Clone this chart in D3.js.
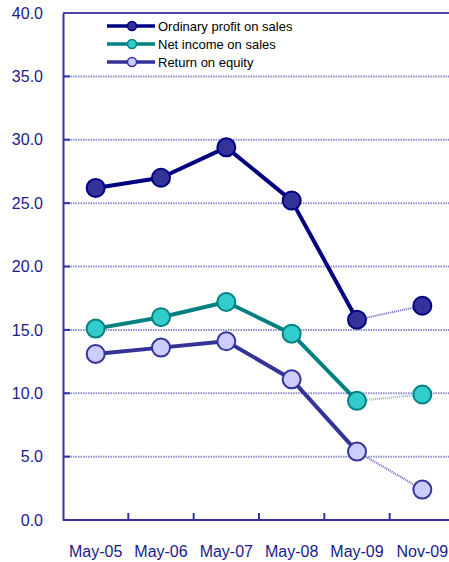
<!DOCTYPE html>
<html>
<head>
<meta charset="utf-8">
<script src="https://cdn.jsdelivr.net/npm/d3@7"></script>
<style>
  body { margin: 0; background: #fff; }
  svg { display: block; font-family: "Liberation Sans", Arial, sans-serif; }
</style>
</head>
<body>
<div id="chart"></div>
<script>
// periods on the x axis
var periods = ['May-05', 'May-06', 'May-07', 'May-08', 'May-09', 'Nov-09'];

// series values (%)
var ordinaryProfit = [26.2, 27.0, 29.4, 25.2, 15.8, 16.9];
var netIncome = [15.1, 16.0, 17.2, 14.7, 9.4, 9.9];
var returnOnEquity = [13.1, 13.6, 14.1, 11.1, 5.4, 2.4];

var yTicks = [0, 5, 10, 15, 20, 25, 30, 35, 40];

var series = [
  { name: 'Ordinary profit on sales', values: ordinaryProfit, line: '#000080', fill: '#333399', stroke: '#000080', dot: '#6666bb' },
  { name: 'Net income on sales', values: netIncome, line: '#008080', fill: '#33cccc', stroke: '#008080', dot: '#66cccc' },
  { name: 'Return on equity', values: returnOnEquity, line: '#333399', fill: '#ccccff', stroke: '#333399', dot: '#6666bb' }
];

const W = 449, H = 562;
const margin = { top: 13, right: -6, bottom: 42, left: 63 };
const width = W - margin.left - margin.right;
const height = H - margin.top - margin.bottom;

const svg = d3.select('#chart')
  .append('svg')
    .attr('width', W)
    .attr('height', H)
  .append('g')
    .attr('transform', `translate(${margin.left},${margin.top})`);

const xScale = d3.scaleBand()
  .domain(periods)
  .range([0, width]);

const yScale = d3.scaleLinear()
  .domain([0, 40])
  .range([height, 0]);

const axisColor = '#333399';
const textColor = '#1a1a8c';

// dotted gridlines
svg.append('g')
  .selectAll('line')
  .data(yTicks.filter(d => d > 0 && d < 40))
  .join('line')
    .attr('x1', 0)
    .attr('x2', width)
    .attr('y1', d => yScale(d))
    .attr('y2', d => yScale(d))
    .attr('stroke', '#8f8fcf')
    .attr('stroke-width', 2)
    .attr('stroke-dasharray', '1.5,1');

// top border at 40
svg.append('line')
  .attr('x1', 0).attr('x2', width)
  .attr('y1', yScale(40)).attr('y2', yScale(40))
  .attr('stroke', '#4747a8')
  .attr('stroke-width', 2);

// y axis, ticks pointing inward
svg.append('g')
  .call(d3.axisLeft(yScale).tickValues(yTicks).tickFormat(d3.format('.1f')).tickSize(0).tickPadding(20))
  .call(g => g.select('.domain').attr('stroke', axisColor).attr('stroke-width', 2))
  .call(g => g.selectAll('text').attr('fill', textColor).attr('font-size', 16)
    .attr('font-family', '"Liberation Sans", Arial, sans-serif'));

svg.append('g')
  .selectAll('line')
  .data(yTicks.filter(d => d > 0 && d < 40))
  .join('line')
    .attr('x1', 0)
    .attr('x2', 7)
    .attr('y1', d => yScale(d))
    .attr('y2', d => yScale(d))
    .attr('stroke', axisColor)
    .attr('stroke-width', 2);

// x axis with inner ticks at band edges
svg.append('line')
  .attr('x1', 0).attr('x2', width)
  .attr('y1', height).attr('y2', height)
  .attr('stroke', axisColor)
  .attr('stroke-width', 2);

svg.append('g')
  .selectAll('line')
  .data(periods.slice(1))
  .join('line')
    .attr('x1', d => xScale(d))
    .attr('x2', d => xScale(d))
    .attr('y1', height)
    .attr('y2', height - 7)
    .attr('stroke', axisColor)
    .attr('stroke-width', 2);

svg.append('g')
  .selectAll('text')
  .data(periods)
  .join('text')
    .attr('x', d => xScale(d) + xScale.bandwidth() / 2)
    .attr('y', height + 37)
    .attr('text-anchor', 'middle')
    .attr('fill', textColor)
    .attr('font-size', 16)
    .text(d => d);

const cx = d => xScale(d) + xScale.bandwidth() / 2;

const line = d3.line()
  .x(d => cx(d.period))
  .y(d => yScale(d.value));

series.forEach(s => {
  const pts = periods.map((p, i) => ({ period: p, value: s.values[i] }));
  // solid part for annual figures
  svg.append('path')
    .datum(pts.slice(0, 5))
    .attr('d', line)
    .attr('fill', 'none')
    .attr('stroke', s.line)
    .attr('stroke-width', 4)
    .attr('stroke-linejoin', 'round');
  // dotted link to half-year figure
  svg.append('path')
    .datum(pts.slice(4))
    .attr('d', line)
    .attr('fill', 'none')
    .attr('stroke', s.dot)
    .attr('stroke-width', 2)
    .attr('stroke-dasharray', '1,1');
});

series.forEach(s => {
  const pts = periods.map((p, i) => ({ period: p, value: s.values[i] }));
  svg.append('g')
    .selectAll('circle')
    .data(pts)
    .join('circle')
      .attr('cx', d => cx(d.period))
      .attr('cy', d => yScale(d.value))
      .attr('r', 9)
      .attr('fill', s.fill)
      .attr('stroke', s.stroke)
      .attr('stroke-width', 2);
});

// legend
const legend = svg.append('g')
  .attr('transform', 'translate(44,13)');

series.forEach((s, i) => {
  const g = legend.append('g').attr('transform', `translate(0,${i * 18})`);
  g.append('line')
    .attr('x1', 0).attr('x2', 48)
    .attr('stroke', s.line)
    .attr('stroke-width', 3.5);
  g.append('circle')
    .attr('cx', 25).attr('r', 4.5)
    .attr('fill', s.fill)
    .attr('stroke', s.stroke)
    .attr('stroke-width', 1.5);
  g.append('text')
    .attr('x', 51)
    .attr('dy', '0.35em')
    .attr('font-size', 13)
    .attr('fill', '#000')
    .text(s.name);
});
</script>
</body>
</html>
